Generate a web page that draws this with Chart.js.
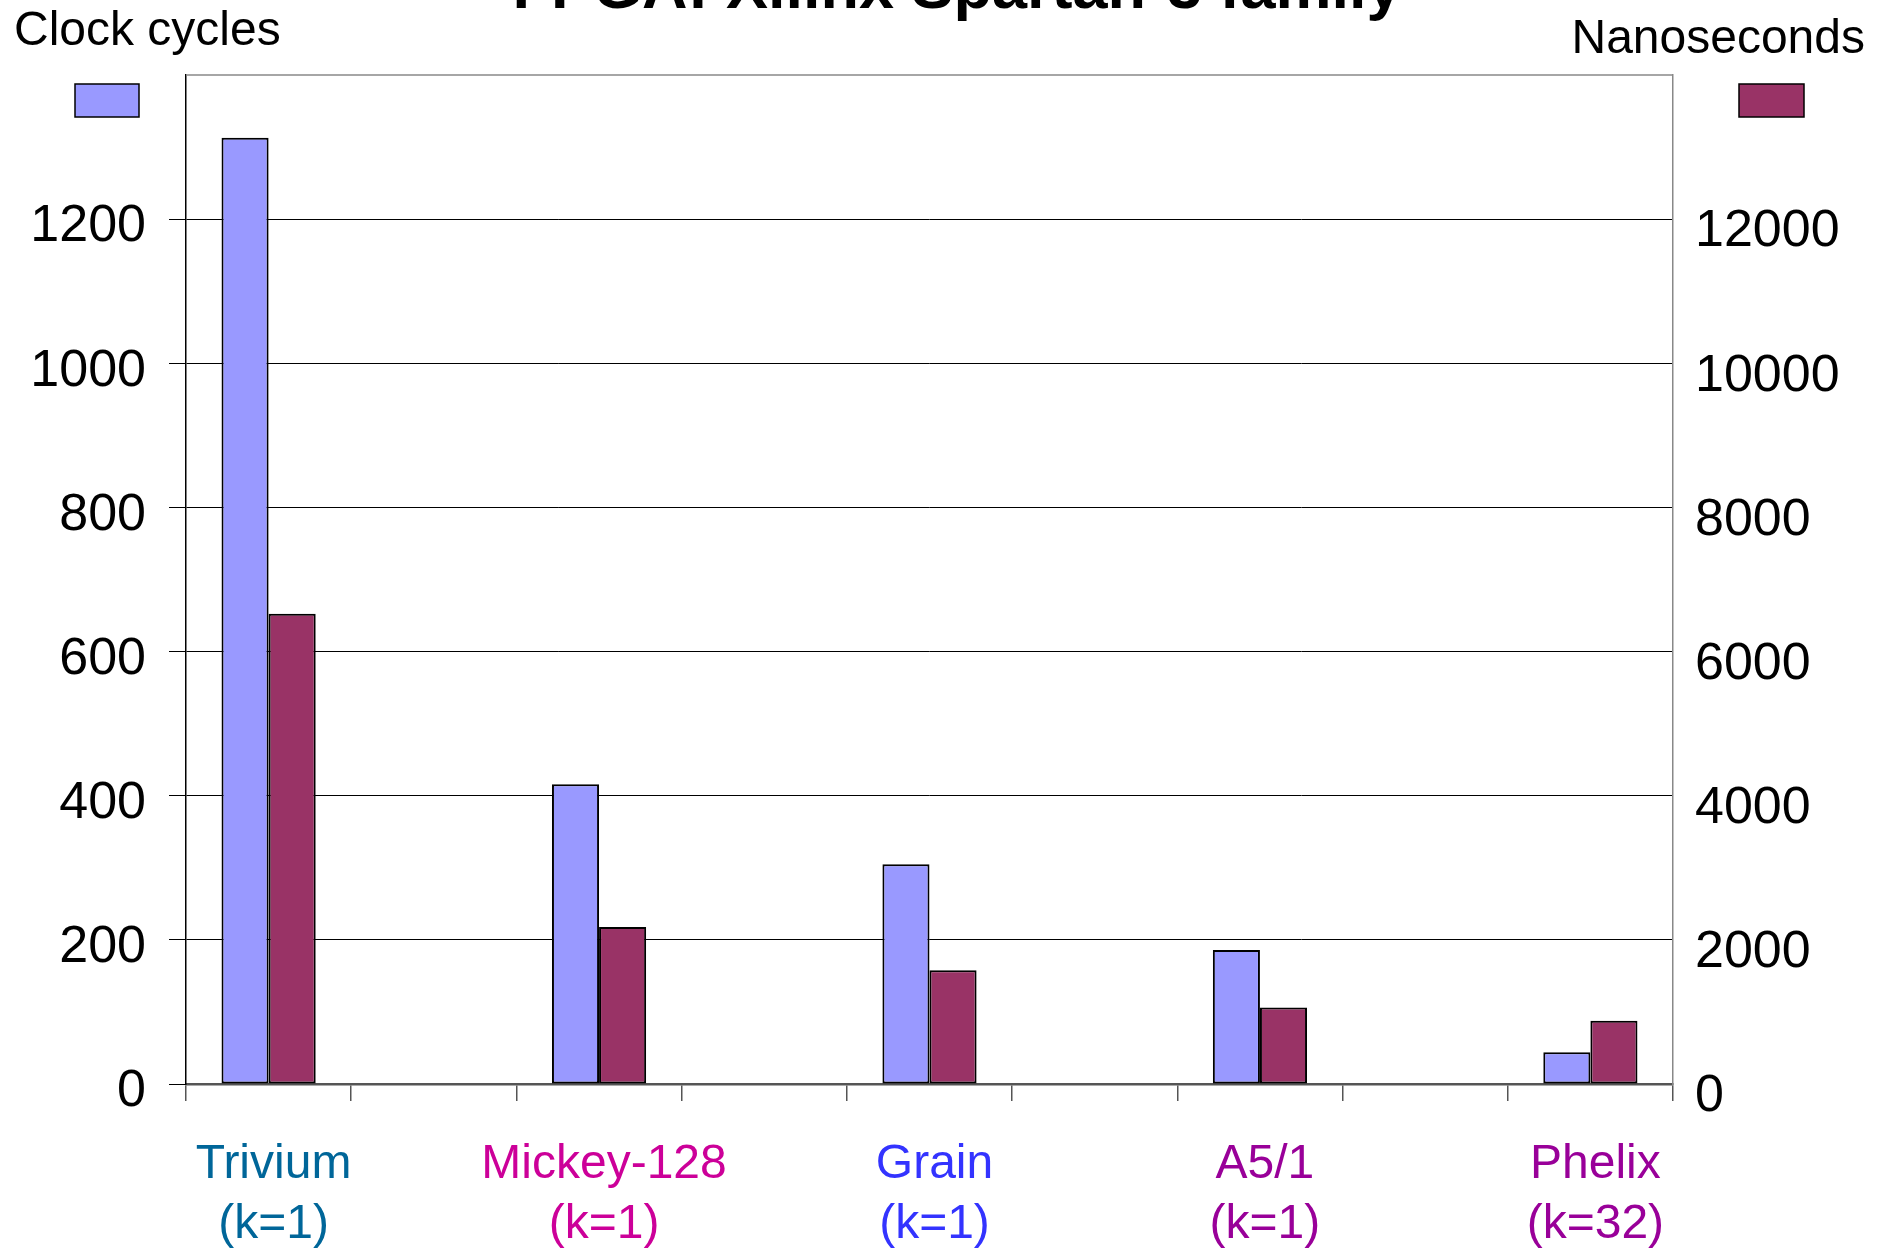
<!DOCTYPE html>
<html>
<head>
<meta charset="utf-8">
<title>FPGA: Xilinx Spartan-3 family</title>
<script src="https://cdn.jsdelivr.net/npm/chart.js@4/dist/chart.umd.min.js"></script>
<style>
  html, body { margin: 0; padding: 0; background: #fff; }
  canvas { display: block; }
</style>
</head>
<body>
<canvas id="chart" width="1887" height="1250"></canvas>
<script>
// --- cipher timings --- //
const ciphers = ["Trivium", "Mickey-128", "Grain", "A5/1", "Phelix"];
const params = ["(k=1)", "(k=1)", "(k=1)", "(k=1)", "(k=32)"];
const labelColors = ["#006699", "#CC0099", "#3333FF", "#990099", "#990099"];
const clockCycles = [1313, 416, 305, 186, 44];
const nanoseconds = [6525, 2180, 1577, 1062, 877];
const leftTicks = [0, 200, 400, 600, 800, 1000, 1200];
const rightTicks = [0, 2000, 4000, 6000, 8000, 10000, 12000];

const FONT = "'Liberation Sans', Arial, sans-serif";

// every cipher sits in its own slot with an empty slot in between
const slots = [];
const slotColors = [];
const clockSlots = [];
const nsSlots = [];
ciphers.forEach((c, i) => {
  if (i > 0) {
    slots.push("");
    slotColors.push("#000");
    clockSlots.push(null);
    nsSlots.push(null);
  }
  slots.push([c, params[i]]);
  slotColors.push(labelColors[i]);
  clockSlots.push(clockCycles[i]);
  nsSlots.push(nanoseconds[i]);
});

// heading, axis captions, legend swatches, plot frame
const decorations = {
  id: "decorations",
  afterDraw(chart) {
    const ctx = chart.ctx;
    const a = chart.chartArea;
    const ds = chart.data.datasets;
    ctx.save();

    ctx.fillStyle = "#000";
    ctx.textBaseline = "alphabetic";
    ctx.font = "bold 63px " + FONT;
    ctx.textAlign = "center";
    ctx.fillText("FPGA: Xilinx Spartan-3 family", 957, 8);

    ctx.font = "48px " + FONT;
    ctx.textAlign = "left";
    ctx.fillText(ds[0].label, 14, 45);
    ctx.textAlign = "right";
    ctx.fillText(ds[1].label, 1865, 53);

    ctx.lineWidth = 1.5;
    ctx.strokeStyle = "#000";
    ctx.fillStyle = ds[0].backgroundColor;
    ctx.fillRect(75, 84, 64, 33);
    ctx.strokeRect(75, 84, 64, 33);
    ctx.fillStyle = ds[1].backgroundColor;
    ctx.fillRect(1739, 84, 65, 33);
    ctx.strokeRect(1739, 84, 65, 33);

    ctx.strokeStyle = "#888";
    ctx.lineWidth = 1.5;
    ctx.beginPath();
    ctx.moveTo(a.left, a.top);
    ctx.lineTo(a.right, a.top);
    ctx.stroke();
    ctx.restore();
  }
};

const hideTop = (top, color) => ctx => (ctx.tick && ctx.tick.value === top ? "rgba(0,0,0,0)" : color);

new Chart(document.getElementById("chart"), {
  type: "bar",
  data: {
    labels: slots,
    datasets: [
      {
        label: "Clock cycles",
        data: clockSlots,
        yAxisID: "y",
        backgroundColor: "#9999FF",
        borderColor: "#000",
        borderWidth: 2,
        borderSkipped: false,
        categoryPercentage: 0.57,
        barPercentage: 1.0
      },
      {
        label: "Nanoseconds",
        data: nsSlots,
        yAxisID: "y2",
        backgroundColor: "#993366",
        borderColor: "#000",
        borderWidth: 2,
        borderSkipped: false,
        categoryPercentage: 0.57,
        barPercentage: 1.0
      }
    ]
  },
  options: {
    responsive: false,
    animation: false,
    devicePixelRatio: 1,
    layout: { padding: { top: 75, left: 0, right: 0, bottom: 0 } },
    plugins: {
      legend: { display: false },
      title: { display: false },
      tooltip: { enabled: false }
    },
    scales: {
      x: {
        type: "category",
        offset: true,
        afterFit: s => { s.height = 166; },
        grid: {
          offset: true,
          drawOnChartArea: false,
          drawTicks: true,
          tickLength: 17,
          color: "#555",
          lineWidth: 1.5
        },
        border: { display: true, color: "#555", width: 2.5 },
        ticks: {
          autoSkip: false,
          maxRotation: 0,
          minRotation: 0,
          padding: 34,
          labelOffset: 5,
          color: ctx => slotColors[ctx.index],
          font: { family: FONT, size: 48, lineHeight: 1.25 }
        }
      },
      y: {
        position: "left",
        min: 0,
        max: 1400,
        afterFit: s => { s.width = 186; },
        afterBuildTicks: s => { s.ticks = leftTicks.concat([1400]).map(v => ({ value: v })); },
        grid: {
          color: hideTop(1400, "#000"),
          lineWidth: 1,
          drawTicks: true,
          tickLength: 17
        },
        border: { display: true, color: "#000", width: 1.5 },
        ticks: {
          padding: 23,
          labelOffset: 8,
          color: "#000",
          font: { family: FONT, size: 52 },
          callback: v => leftTicks.includes(v) ? String(v) : ""
        }
      },
      y2: {
        position: "right",
        min: 0,
        max: 14000,
        afterFit: s => { s.width = 214; },
        afterBuildTicks: s => { s.ticks = rightTicks.concat([14000]).map(v => ({ value: v })); },
        grid: { drawOnChartArea: false, drawTicks: false },
        border: { display: true, color: "#888", width: 1.5 },
        ticks: {
          padding: 22,
          labelOffset: 13,
          color: "#000",
          font: { family: FONT, size: 52 },
          callback: v => rightTicks.includes(v) ? String(v) : ""
        }
      }
    }
  },
  plugins: [decorations]
});
</script>
</body>
</html>
